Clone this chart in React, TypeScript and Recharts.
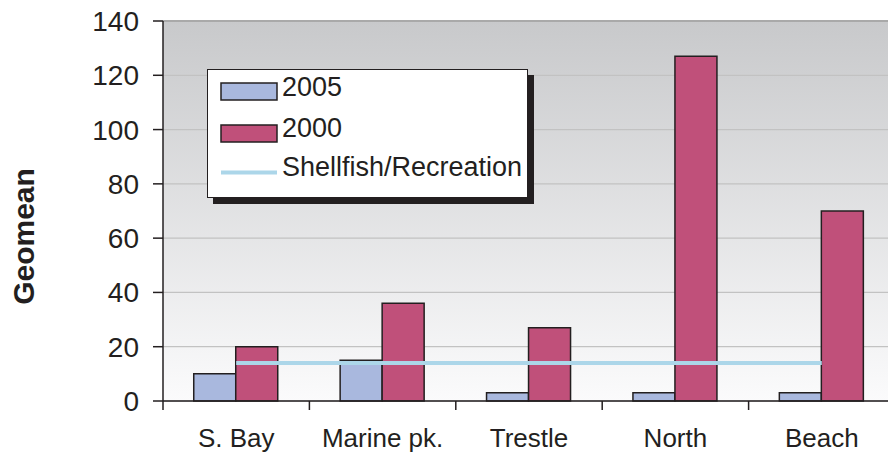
import React from 'react';
import { ComposedChart, Bar, Line, XAxis, YAxis, CartesianGrid, Legend, ReferenceLine } from 'recharts';

const categories = ['S. Bay', 'Marine pk.', 'Trestle', 'North', 'Beach'];
const values2005 = [10, 15, 3, 3, 3];
const values2000 = [20, 36, 27, 127, 70];
const shellfish = [14, 14, 14, 14, 14];
const yTicks = [0, 20, 40, 60, 80, 100, 120, 140];
const seriesNames = ['2005', '2000', 'Shellfish/Recreation'];

const data = categories.map((c, i) => ({
  name: c,
  y2005: values2005[i],
  y2000: values2000[i],
  shell: shellfish[i],
}));

const FONT = '"Liberation Sans", Arial, Helvetica, sans-serif';
const INK = '#231f20';
const C2005 = '#a9b8de';
const C2000 = '#c0507a';
const CLINE = '#acd6e9';

const XTick = (props: any) => {
  const { x, y, payload, index } = props;
  const off = payload.offset || 0;
  return (
    <g>
      <line x1={x - off} x2={x - off} y1={y} y2={y + 9} stroke={INK} strokeWidth={1.5} />
      {index === categories.length - 1 && (
        <line x1={x + off} x2={x + off} y1={y} y2={y + 9} stroke={INK} strokeWidth={1.5} />
      )}
      <text x={x} y={y + 46} textAnchor="middle" fill={INK} fontSize={26} fontFamily={FONT}>
        {payload.value}
      </text>
    </g>
  );
};

const LegendBox = () => (
  <div
    style={{
      width: 321,
      height: 129,
      boxSizing: 'border-box',
      border: `1.5px solid ${INK}`,
      background: '#fff',
      boxShadow: `6px 6px 0 ${INK}`,
    }}
  >
    <svg width={318} height={126} style={{ display: 'block' }}>
      <rect x={13} y={13} width={56} height={17} fill={C2005} stroke={INK} strokeWidth={1.5} />
      <text x={74} y={26} fontSize={27} fontFamily={FONT} fill={INK}>{seriesNames[0]}</text>
      <rect x={13} y={55} width={56} height={17} fill={C2000} stroke={INK} strokeWidth={1.5} />
      <text x={74} y={67} fontSize={27} fontFamily={FONT} fill={INK}>{seriesNames[1]}</text>
      <line x1={13} x2={69} y1={102.5} y2={102.5} stroke={CLINE} strokeWidth={4} />
      <text x={74} y={106} fontSize={27} fontFamily={FONT} fill={INK}>{seriesNames[2]}</text>
    </svg>
  </div>
);

export default function App() {
  return (
    <div style={{ position: 'absolute', left: 0, top: 0, width: 888, height: 453, overflow: 'hidden', background: '#fff' }}>
      <ComposedChart
        width={900}
        height={453}
        data={data}
        margin={{ top: 21, right: 5, bottom: 0, left: 0 }}
        barCategoryGap="21%"
        barGap={0}
      >
        <defs>
          <linearGradient id="bg" x1="0" y1="0" x2="0" y2="1">
            <stop offset="0%" stopColor="#c8c9cb" />
            <stop offset="100%" stopColor="#fbfbfc" />
          </linearGradient>
        </defs>
        <CartesianGrid vertical={false} stroke="#c2c2c2" strokeWidth={1.2} fill="url(#bg)" fillOpacity={1} />
        <ReferenceLine y={140} stroke="#a9a9a9" strokeWidth={2} />
        <XAxis
          dataKey="name"
          height={52}
          tickLine={false}
          tickSize={0}
          tickMargin={0}
          axisLine={{ stroke: INK, strokeWidth: 1.5 }}
          tick={<XTick />}
          interval={0}
        />
        <YAxis
          width={163}
          domain={[0, 140]}
          ticks={yTicks}
          tickSize={10}
          tickMargin={14}
          axisLine={{ stroke: INK, strokeWidth: 1.5 }}
          tickLine={{ stroke: INK, strokeWidth: 1.5 }}
          tick={{ fill: INK, fontSize: 28, fontFamily: FONT }}
          label={(p: any) => (
            <text
              x={34}
              y={236.5}
              transform="rotate(-90, 34, 236.5)"
              textAnchor="middle"
              fontSize={30}
              fontWeight="bold"
              fontFamily={FONT}
              fill={INK}
            >
              Geomean
            </text>
          )}
        />
        <Bar dataKey="y2005" name={seriesNames[0]} fill={C2005} stroke={INK} strokeWidth={1.5} isAnimationActive={false} />
        <Bar dataKey="y2000" name={seriesNames[1]} fill={C2000} stroke={INK} strokeWidth={1.5} isAnimationActive={false} />
        <Line dataKey="shell" name={seriesNames[2]} stroke={CLINE} strokeWidth={4} dot={false} activeDot={false} isAnimationActive={false} />
        <Legend
          layout="vertical"
          align="center"
          verticalAlign="middle"
          content={<LegendBox />}
          wrapperStyle={{ left: 207, top: 69, width: 321, height: 129 }}
        />
      </ComposedChart>
    </div>
  );
}
